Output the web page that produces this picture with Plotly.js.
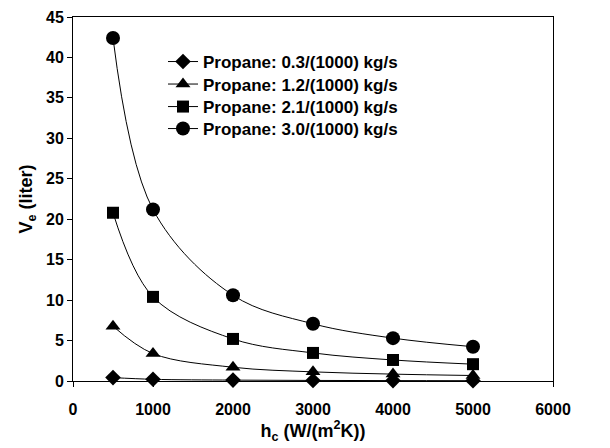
<!DOCTYPE html>
<html>
<head>
<meta charset="utf-8">
<script src="https://cdn.plot.ly/plotly-3.0.1.min.js"></script>
<style>html,body{margin:0;padding:0;background:#fff;}#chart{width:610px;height:448px;}</style>
</head>
<body>
<div id="chart"></div>
<script>
const hc = [500, 1000, 2000, 3000, 4000, 5000];
const names = ["Propane: 0.3/(1000) kg/s", "Propane: 1.2/(1000) kg/s", "Propane: 2.1/(1000) kg/s", "Propane: 3.0/(1000) kg/s"];
const ve03 = [0.42, 0.21, 0.11, 0.07, 0.05, 0.04];
const ve12 = [6.78, 3.39, 1.70, 1.13, 0.85, 0.68];
const ve21 = [20.8, 10.4, 5.2, 3.47, 2.6, 2.08];
const ve30 = [42.4, 21.2, 10.6, 7.07, 5.3, 4.24];
const symbols = ["diamond", "triangle-up", "square", "circle"];
const series = [ve03, ve12, ve21, ve30];
const sizes = [12, 13, 12, 14];
const legendIds = ["legend", "legend2", "legend3", "legend4"];
const legendY = [0.8764, 0.8146, 0.7527, 0.6923];

const FONT = "Arial, 'Liberation Sans', sans-serif";
const traces = series.map((ys, i) => ({
  x: hc, y: ys, name: names[i], type: "scatter", mode: "lines+markers",
  line: {color: "#000", width: 1, shape: "spline", smoothing: 1},
  marker: {color: "#000", symbol: symbols[i], size: sizes[i]},
  cliponaxis: false, legend: legendIds[i]
}));

const layout = {
  width: 610, height: 448,
  margin: {l: 73, r: 57, t: 17, b: 67},
  paper_bgcolor: "#fff", plot_bgcolor: "#fff",
  font: {family: FONT, color: "#000", size: 16, weight: "bold"},
  showlegend: true,
  xaxis: {
    range: [0, 6000], dtick: 1000, tick0: 0, showgrid: false, zeroline: false,
    showline: true, linecolor: "#000", linewidth: 1, mirror: true,
    ticks: "outside", ticklen: 5, tickcolor: "#000", ticklabelstandoff: 9,
    tickfont: {family: FONT, size: 16, weight: "bold"},
    title: {text: "h<sub>c</sub> (W/(m<sup>2</sup>K))", font: {family: FONT, size: 18, weight: "bold"}, standoff: 4}
  },
  yaxis: {
    range: [0, 45], dtick: 5, tick0: 0, showgrid: false, zeroline: false,
    showline: true, linecolor: "#000", linewidth: 1, mirror: true,
    ticks: "outside", ticklen: 5, tickcolor: "#000",
    tickfont: {family: FONT, size: 16, weight: "bold"},
    title: {text: "V<sub>e</sub> (liter)", font: {family: FONT, size: 18, weight: "bold"}, standoff: 8}
  }
};
legendIds.forEach((id, i) => {
  layout[id] = {x: 0.1875, y: legendY[i], xanchor: "left", yanchor: "middle", bgcolor: "rgba(0,0,0,0)",
    font: {family: FONT, size: 17, weight: "bold", color: "#000"}, itemwidth: 30};
});
Plotly.newPlot("chart", traces, layout, {staticPlot: true, displayModeBar: false});
</script>
</body>
</html>
